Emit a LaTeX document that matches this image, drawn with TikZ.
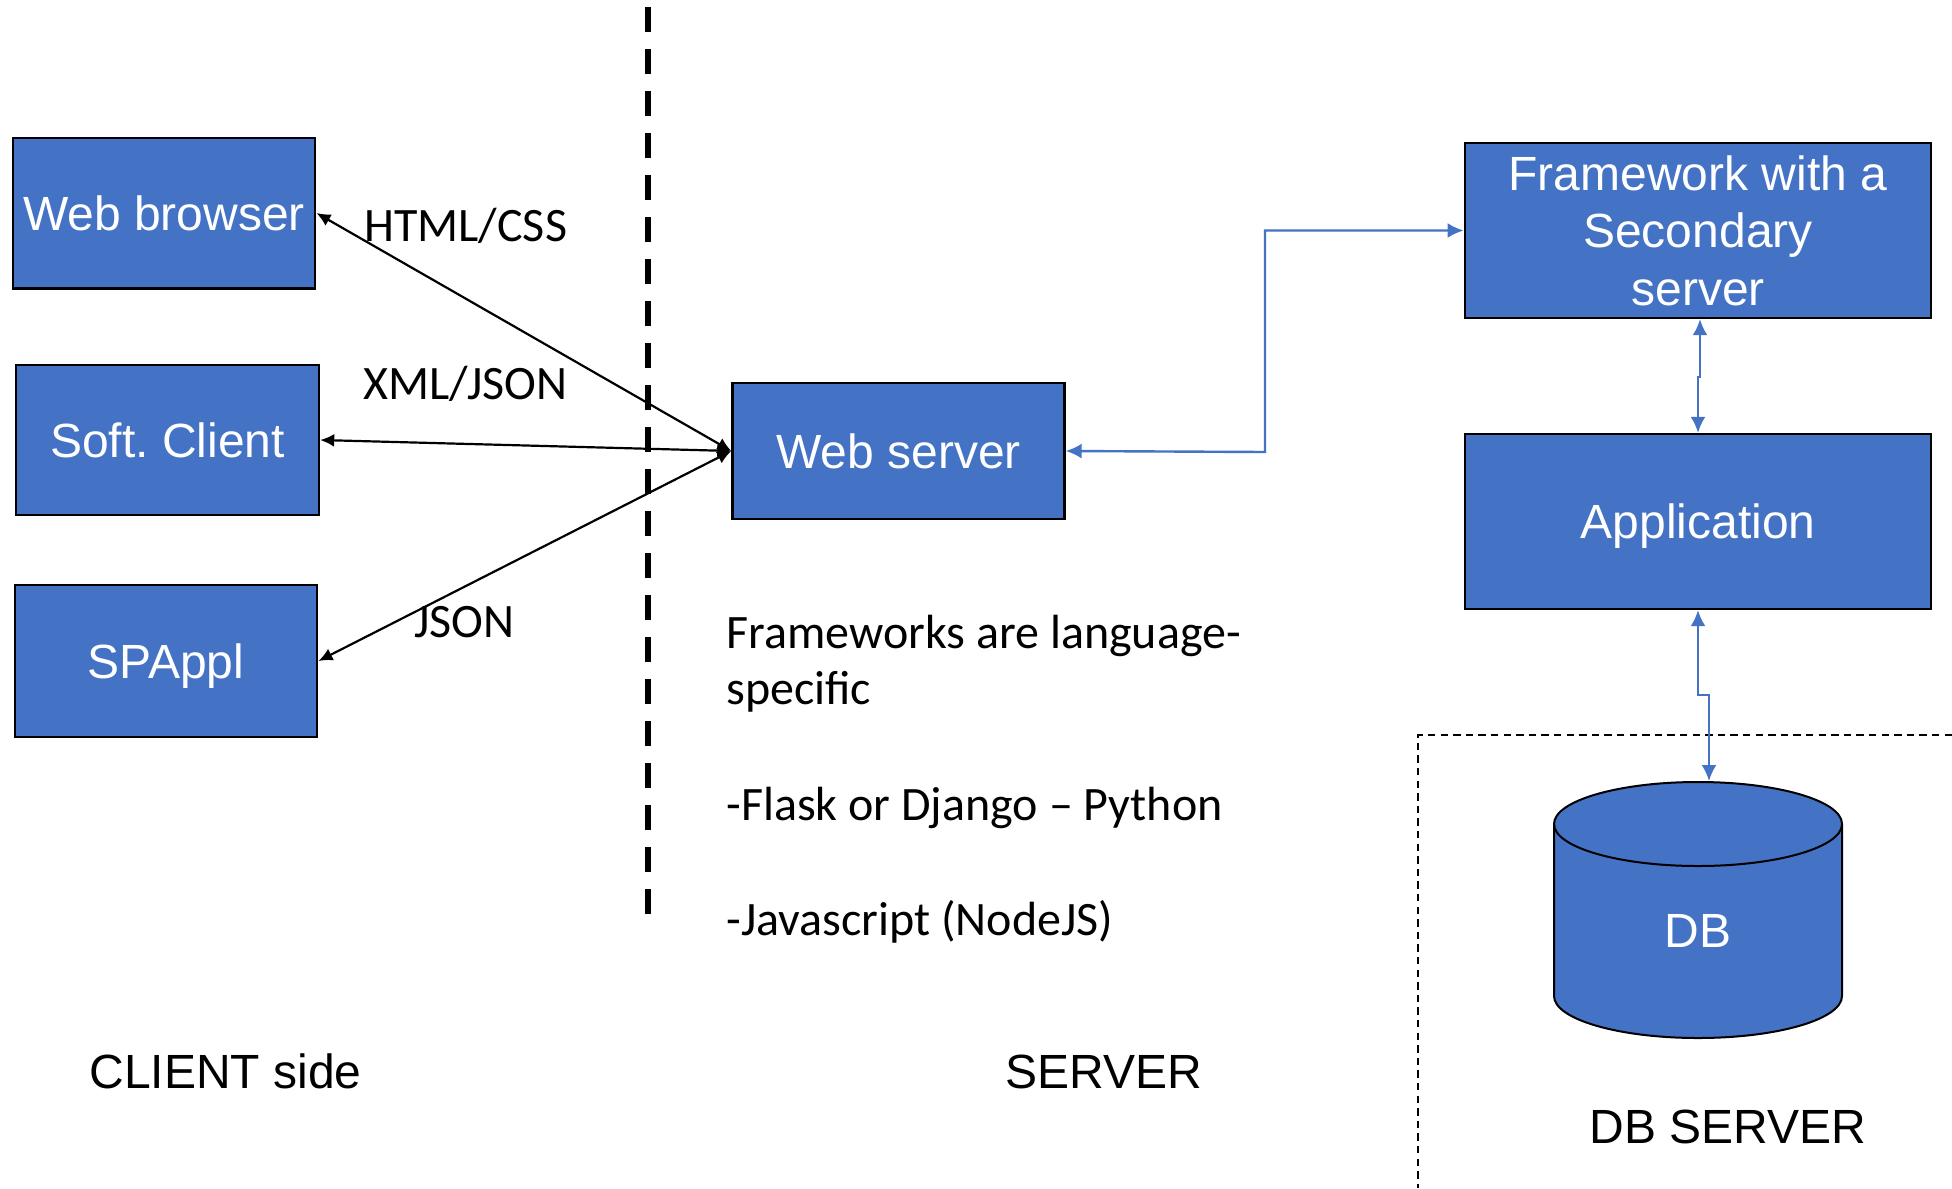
\documentclass[tikz,border=0pt]{standalone}
\usepackage{fontspec}
\setmainfont{Liberation Sans}
\newfontfamily\calibri{Carlito}
\usetikzlibrary{arrows.meta}
\definecolor{boxblue}{HTML}{4472C4}
\frenchspacing
\begin{document}
\begin{tikzpicture}[x=0.5pt,y=-0.5pt,
  bluebox/.style={draw=black, line width=1.2pt, fill=boxblue, text=white, inner sep=0pt,
    font=\fontsize{24}{28.75}\selectfont, align=center},
  oneline/.style={text height=17.2pt, text depth=0pt},
  blk/.style={line width=1.1pt, {Latex[length=7pt,width=6.5pt]}-{Latex[length=7pt,width=6.5pt]}},
  bl/.style={draw=boxblue, line width=1.2pt, {Latex[length=8pt,width=7.5pt]}-{Latex[length=8pt,width=7.5pt]}},
  lbl/.style={font=\calibri\fontsize{24}{29}\selectfont, anchor=base west, inner sep=0pt},
  ttl/.style={font=\fontsize{24}{29}\selectfont, anchor=base west, inner sep=0pt}]
\useasboundingbox (0,0) rectangle (1952,1188);
\fill[white] (0,0) rectangle (1952,1188);

% client boxes
\node[bluebox, oneline, minimum width=151.25pt, minimum height=75.3pt] (wb) at (164,213) {Web browser};
\node[bluebox, oneline, minimum width=151.5pt, minimum height=75pt] (sc) at (167.5,440) {Soft.\ Client};
\node[bluebox, oneline, minimum width=151.25pt, minimum height=76pt] (sp) at (166,661) {SPAppl};
% server boxes
\node[bluebox, oneline, minimum width=166pt, minimum height=67.75pt] (ws) at (898.5,451) {Web server};
\node[bluebox, minimum width=233.25pt, minimum height=87.5pt] (fw) at (1698,230.5) {Framework with a\\Secondary\\server};
\node[bluebox, oneline, minimum width=233.25pt, minimum height=87.5pt] (app) at (1698,521.5) {Application};

% separator
\coordinate (septop) at (648,7);
\coordinate (sepbot) at (648,915);
\draw[line width=2.85pt, dash pattern=on 12.5pt off 8.5pt] (septop) -- (sepbot);

% DB server region
\coordinate (dbr1) at (1952,735);
\coordinate (dbr2) at (1418,735);
\coordinate (dbr3) at (1418,1188);
\draw[line width=1pt, dash pattern=on 3.7pt off 2.6pt] (dbr1) -- (dbr2) -- (dbr3);

% cylinder
\filldraw[fill=boxblue, draw=black, line width=1pt] (1554,824) -- (1554,996)
  arc[start angle=180, end angle=0, x radius=144, y radius=42] -- (1842,824)
  arc[start angle=0, end angle=-180, x radius=144, y radius=42] -- cycle;
\draw[line width=1pt] (1554,824) arc[start angle=180, end angle=0, x radius=144, y radius=42];
\node[text=white, font=\fontsize{24}{28.75}\selectfont, inner sep=0pt] (db) at (1698,931) {DB};
\coordinate (dbtop) at (1709,781);

% black connectors
\draw[blk] (wb.east) -- (ws.west);
\draw[blk] (sc.east) -- (ws.west);
\draw[blk] (sp.east) -- (ws.west);

% blue connectors
\coordinate (j1) at (1265,452);
\draw[bl] (ws.east) -- (j1) |- (fw.west);
\coordinate (j2) at (1698,377);
\draw[bl] ([xshift=1pt]fw.south) |- (j2) -- (app.north);
\coordinate (j3) at (1709,695);
\draw[bl] (app.south) |- (j3) -- (dbtop);

% labels
\node[lbl] (lhtml) at (364,241) {HTML/CSS};
\node[lbl] (lxml) at (363,399) {XML/JSON};
\node[lbl] (ljson) at (414,637) {JSON};
\node[lbl] (t1) at (726,648) {Frameworks are language-};
\node[lbl] (t2) at (726,704) {specific};
\node[lbl] (t3) at (726,820) {-Flask or Django – Python};
\node[lbl] (t4) at (726,935) {-Javascript (NodeJS)};

\node[ttl] (cside) at (89,1088) {CLIENT side};
\node[ttl] (sside) at (1005.5,1088) {SERVER};
\node[ttl] (dside) at (1589,1143) {DB SERVER};
\end{tikzpicture}
\end{document}
